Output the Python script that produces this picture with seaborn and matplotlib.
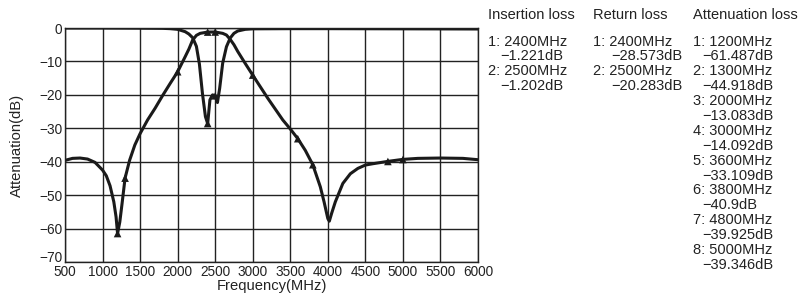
import matplotlib
matplotlib.use("Agg")
import matplotlib.pyplot as plt
import matplotlib.transforms as mtransforms
import seaborn as sns
import pandas as pd

sns.set_style("whitegrid")
plt.rcParams['font.family'] = ['Liberation Sans', 'DejaVu Sans']

# Attenuation / insertion curve (S21)
atten_freq = [500, 600, 700, 800, 900, 1000, 1050, 1100, 1150, 1180, 1200, 1230, 1260, 1300,
              1360, 1430, 1500, 1600, 1700, 1800, 1900, 2000, 2100, 2150, 2200, 2250, 2300,
              2400, 2500, 2600, 2650, 2700, 2750, 2800, 2900, 3000, 3200, 3400, 3500, 3600,
              3700, 3800, 3900, 3950, 4000, 4020, 4050, 4100, 4200, 4300, 4400, 4500, 4600,
              4800, 5000, 5200, 5500, 5800, 6000]
atten_db = [-39.6, -39.0, -38.9, -39.2, -40.2, -42.5, -44.2, -47.2, -52.0, -56.5, -61.5, -58.0,
            -52.5, -44.9, -39.6, -35.0, -31.6, -27.5, -24.0, -20.2, -16.6, -13.1, -8.6, -6.3,
            -3.6, -2.2, -1.6, -1.22, -1.2, -1.6, -2.1, -3.4, -5.0, -7.0, -10.6, -14.1, -21.0,
            -27.5, -30.2, -33.1, -36.6, -40.9, -47.5, -52.0, -57.0, -57.8, -55.5, -52.0,
            -46.5, -43.6, -42.0, -41.0, -40.6, -39.9, -39.3, -39.0, -38.9, -39.0, -39.4]

# Return loss curve (S11)
ret_freq = [500, 1000, 1500, 1800, 1900, 2000, 2100, 2150, 2200, 2250, 2290, 2330, 2370,
            2400, 2430, 2465, 2500, 2530, 2560, 2600, 2650, 2700, 2750, 2800, 2900, 3000,
            3500, 4000, 5000, 6000]
ret_db = [-0.0, -0.0, -0.05, -0.1, -0.2, -0.4, -1.1, -1.8, -2.9, -5.5, -10.8, -19.5, -26.5,
          -28.6, -21.5, -20.0, -20.3, -22.3, -18.0, -10.5, -5.6, -3.0, -1.6, -0.9, -0.4,
          -0.25, -0.2, -0.2, -0.25, -0.3]

# Markers
ins_freq = [2400, 2500]
ins_db = [-1.221, -1.202]
rl_mk_freq = [2400, 2500]
rl_mk_db = [-28.573, -20.283]
att_mk_freq = [1200, 1300, 2000, 3000, 3600, 3800, 4800, 5000]
att_mk_db = [-61.487, -44.918, -13.083, -14.092, -33.109, -40.9, -39.925, -39.346]

W, H = 801, 296
fig = plt.figure(figsize=(W / 100, H / 100), dpi=100)
ax = fig.add_axes([65 / W, 1 - 262 / H, (478 - 65) / W, (262 - 28) / H])

df_a = pd.DataFrame({"f": atten_freq, "db": atten_db})
df_r = pd.DataFrame({"f": ret_freq, "db": ret_db})
sns.lineplot(data=df_a, x="f", y="db", ax=ax, color="#1a1a1a", lw=2.2, sort=True)
sns.lineplot(data=df_r, x="f", y="db", ax=ax, color="#1a1a1a", lw=2.2, sort=True)

mk = pd.DataFrame({"f": ins_freq + rl_mk_freq + att_mk_freq,
                   "db": ins_db + rl_mk_db + att_mk_db})
sns.scatterplot(data=mk, x="f", y="db", ax=ax, marker="^", color="#1a1a1a", s=30,
                edgecolor="none", zorder=5)

ax.set_xlim(500, 6000)
ax.set_ylim(-70, 0)
ax.set_xticks(range(500, 6001, 500))
ax.set_yticks(range(-70, 1, 10))
ax.grid(True, color="#222222", lw=1.0)
for s in ax.spines.values():
    s.set_color("#222222")
    s.set_linewidth(1.0)
ax.tick_params(axis="both", length=0, labelsize=9.8, pad=2, colors="#222222")
ax.set_xlabel("Frequency(MHz)", fontsize=10.6, labelpad=0, color="#222222")
ax.set_ylabel("Attenuation(dB)", fontsize=10.6, color="#222222")
ax.yaxis.set_label_coords((24 - 65) / (478 - 65), 0.5)

# lift the bottom y label a little, as in the original, so it clears "500"
fig.canvas.draw()
low = ax.get_yticklabels()[0]
low.set_transform(low.get_transform() + mtransforms.ScaledTranslation(0, 5 / 100, fig.dpi_scale_trans))

# Marker readout columns
def px(x, y):
    return x / W, 1 - y / H

cols = [
    ("Insertion loss", 488, 12, ins_freq, ins_db),
    ("Return loss", 593, 18, rl_mk_freq, rl_mk_db),
    ("Attenuation loss", 693, 9, att_mk_freq, att_mk_db),
]
fs = 10.5
for title, x0, indent, freqs, dbs in cols:
    fig.text(*px(x0, 15), title, fontsize=fs, va="center", ha="left", color="#222222")
    y = 41.5
    for i, (f, d) in enumerate(zip(freqs, dbs)):
        fig.text(*px(x0, y), f"{i + 1}: {f}MHz", fontsize=fs, va="center", ha="left",
                 color="#222222")
        y += 14.9
        fig.text(*px(x0 + indent, y), f"\u2212{abs(d):g}dB", fontsize=fs, va="center",
                 ha="left", color="#222222")
        y += 14.9

fig.savefig("out.png", dpi=100)
